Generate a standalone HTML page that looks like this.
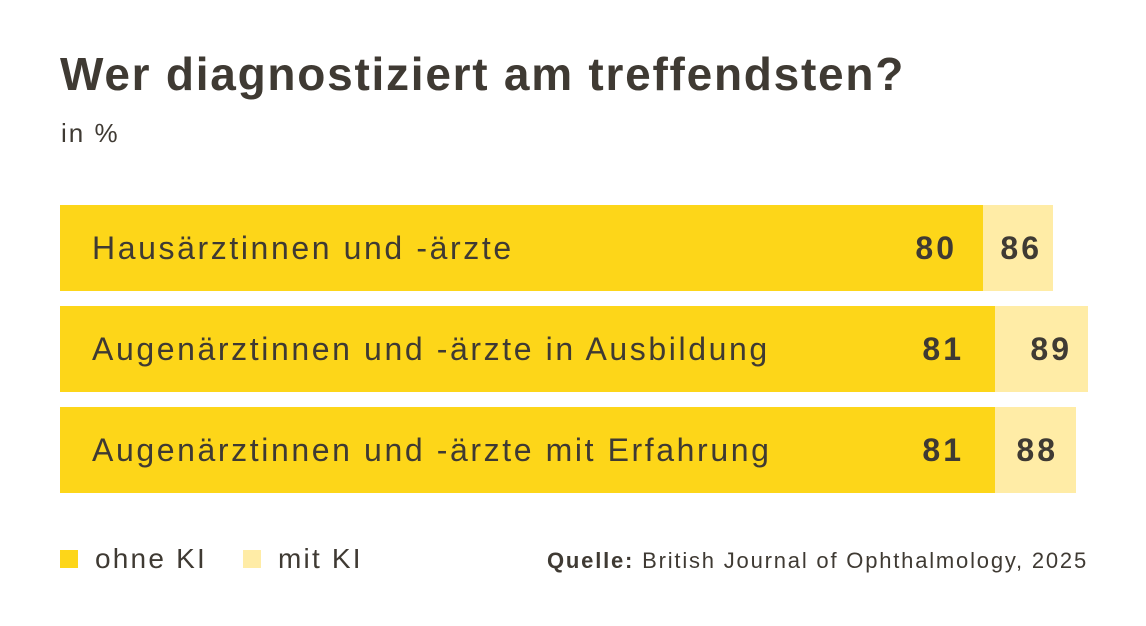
<!DOCTYPE html>
<html><head><meta charset="utf-8"><style>
body{margin:0;width:1146px;height:626px;background:#fff;font-family:"Liberation Sans",sans-serif;color:#3f3a33;position:relative;overflow:hidden}
.a{position:absolute;white-space:nowrap}
.d{position:absolute;background:#fdd619}
.l{position:absolute;background:#ffeca6}
.t{font-size:32px;line-height:86px;letter-spacing:2.6px}
.n{font-size:32px;font-weight:bold;line-height:86px;letter-spacing:3px;text-align:right;width:80px}
</style></head><body>
<div class="a" style="left:60px;top:46px;font-size:46px;font-weight:bold;line-height:56px;letter-spacing:1.75px">Wer diagnostiziert am treffendsten?</div>
<div class="a" style="left:61px;top:116px;font-size:26px;line-height:34px;letter-spacing:2px">in %</div>

<div class="d" style="left:60px;top:205px;width:923px;height:86px"></div>
<div class="l" style="left:983px;top:205px;width:70px;height:86px"></div>
<div class="a t" style="left:92px;top:205px">Hausärztinnen und -ärzte</div>
<div class="a n" style="left:877px;top:205px">80</div>
<div class="a n" style="left:962px;top:205px">86</div>

<div class="d" style="left:60px;top:306px;width:935px;height:86px"></div>
<div class="l" style="left:995px;top:306px;width:93px;height:86px"></div>
<div class="a t" style="left:92px;top:306px">Augenärztinnen und -ärzte in Ausbildung</div>
<div class="a n" style="left:884px;top:306px">81</div>
<div class="a n" style="left:992px;top:306px">89</div>

<div class="d" style="left:60px;top:407px;width:935px;height:86px"></div>
<div class="l" style="left:995px;top:407px;width:81px;height:86px"></div>
<div class="a t" style="left:92px;top:407px">Augenärztinnen und -ärzte mit Erfahrung</div>
<div class="a n" style="left:884px;top:407px">81</div>
<div class="a n" style="left:978px;top:407px">88</div>

<div class="d" style="left:60px;top:550px;width:18px;height:18px"></div>
<div class="a" style="left:95px;top:542px;font-size:28px;line-height:34px;letter-spacing:2.2px">ohne KI</div>
<div class="l" style="left:243px;top:550px;width:18px;height:18px"></div>
<div class="a" style="left:278px;top:542px;font-size:28px;line-height:34px;letter-spacing:2.2px">mit KI</div>
<div class="a" style="right:58px;top:547px;font-size:22px;line-height:28px;letter-spacing:1.8px"><b>Quelle:</b> British Journal of Ophthalmology, 2025</div>
</body></html>
